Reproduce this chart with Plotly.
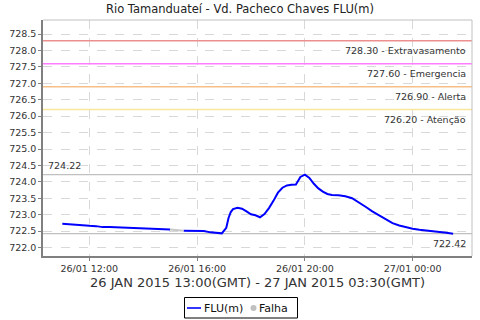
import plotly.graph_objects as go

# ---- data ----
times_a = ["2015-01-26 11:00", "2015-01-26 11:15", "2015-01-26 11:30", "2015-01-26 11:45",
           "2015-01-26 12:00", "2015-01-26 12:15", "2015-01-26 12:30", "2015-01-26 12:45",
           "2015-01-26 13:00", "2015-01-26 13:15", "2015-01-26 13:30", "2015-01-26 13:45",
           "2015-01-26 14:00", "2015-01-26 14:15", "2015-01-26 14:30", "2015-01-26 14:45",
           "2015-01-26 15:00"]
level_a = [722.72, 722.70, 722.68, 722.68, 722.66, 722.65, 722.62, 722.62,
           722.61, 722.60, 722.60, 722.59, 722.59, 722.58, 722.56, 722.56, 722.55]

falha_times = ["2015-01-26 15:00", "2015-01-26 15:30"]
falha_level = [722.55, 722.51]

times_b = ["2015-01-26 15:30", "2015-01-26 15:45", "2015-01-26 16:00", "2015-01-26 16:15",
           "2015-01-26 16:30", "2015-01-26 16:45", "2015-01-26 16:55", "2015-01-26 17:05",
           "2015-01-26 17:10", "2015-01-26 17:15", "2015-01-26 17:20", "2015-01-26 17:30",
           "2015-01-26 17:40", "2015-01-26 17:50", "2015-01-26 18:00", "2015-01-26 18:10",
           "2015-01-26 18:20", "2015-01-26 18:30", "2015-01-26 18:40", "2015-01-26 18:50",
           "2015-01-26 19:00", "2015-01-26 19:10", "2015-01-26 19:20", "2015-01-26 19:30",
           "2015-01-26 19:40", "2015-01-26 19:50", "2015-01-26 20:00", "2015-01-26 20:10",
           "2015-01-26 20:20", "2015-01-26 20:30", "2015-01-26 20:40", "2015-01-26 20:50",
           "2015-01-26 21:00", "2015-01-26 21:15", "2015-01-26 21:30", "2015-01-26 21:45",
           "2015-01-26 22:00", "2015-01-26 22:15", "2015-01-26 22:30", "2015-01-26 22:45",
           "2015-01-26 23:00", "2015-01-26 23:15", "2015-01-26 23:30", "2015-01-26 23:45",
           "2015-01-27 00:00", "2015-01-27 00:15", "2015-01-27 00:30", "2015-01-27 00:45",
           "2015-01-27 01:00", "2015-01-27 01:15", "2015-01-27 01:30"]
level_b = [722.51, 722.50, 722.50, 722.50, 722.46, 722.43, 722.43, 722.60,
           722.90, 723.08, 723.17, 723.21, 723.18, 723.10, 723.01, 722.98,
           722.92, 723.02, 723.20, 723.42, 723.67, 723.82, 723.89, 723.91,
           723.92, 724.15, 724.22, 724.12, 723.94, 723.80, 723.70, 723.63,
           723.60, 723.59, 723.56, 723.50, 723.38, 723.24, 723.10, 722.98,
           722.86, 722.74, 722.67, 722.61, 722.57, 722.54, 722.51, 722.49,
           722.47, 722.45, 722.42]

threshold_values = [728.30, 727.60, 726.90, 726.20]
threshold_names = ["Extravasamento", "Emergencia", "Alerta", "Atenção"]
threshold_colors = ["#ee8f8f", "#ff7cff", "#f5c088", "#f7e79a"]

max_value = 724.22
last_value = 722.42

tick_vals = ["2015-01-26 12:00", "2015-01-26 16:00", "2015-01-26 20:00", "2015-01-27 00:00"]
tick_text = ["26/01 12:00", "26/01 16:00", "26/01 20:00", "27/01 00:00"]

legend_names = ["FLU(m)", "Falha"]

title = "Rio Tamanduateí - Vd. Pacheco Chaves FLU(m)"
x_title = "26 JAN 2015 13:00(GMT) - 27 JAN 2015 03:30(GMT)"

FONT = "DejaVu Sans"
W, H = 480, 320
ML, MR, MT, MB = 43, 8, 20, 64
PW, PH = W - ML - MR, H - MT - MB


def px(x):
    return (x - ML) / PW


def py(y):
    return (H - MB - y) / PH


fig = go.Figure()
fig.add_trace(go.Scatter(x=times_a, y=level_a, mode="lines", line=dict(color="#0000ff", width=2),
                         name=legend_names[0], showlegend=False))
fig.add_trace(go.Scatter(x=times_b, y=level_b, mode="lines", line=dict(color="#0000ff", width=2),
                         name=legend_names[0], showlegend=False))
fig.add_trace(go.Scatter(x=falha_times, y=falha_level, mode="lines", line=dict(color="#c8c8c8", width=2),
                         name=legend_names[1], showlegend=False))

shapes = []
annotations = []
for v, n, c in zip(threshold_values, threshold_names, threshold_colors):
    shapes.append(dict(type="line", xref="paper", x0=0, x1=1, yref="y", y0=v, y1=v,
                       line=dict(color=c, width=1.5), layer="above"))
    annotations.append(dict(xref="paper", x=0.99, yref="y", y=v, yanchor="top", xanchor="right",
                            yshift=-2, text=f"{v:.2f} - {n}", showarrow=False,
                            font=dict(family=FONT, size=9.5, color="#333333")))

for v in [max_value, last_value]:
    shapes.append(dict(type="line", xref="paper", x0=0, x1=1, yref="y", y0=v, y1=v,
                       line=dict(color="#c0c0c0", width=1.2), layer="below"))
annotations.append(dict(xref="paper", x=0.007, yref="y", y=max_value, yanchor="bottom", xanchor="left",
                        yshift=2, text=f"{max_value:.2f}", showarrow=False,
                        font=dict(family=FONT, size=9.5, color="#333333")))
annotations.append(dict(xref="paper", x=0.99, yref="y", y=last_value, yanchor="top", xanchor="right",
                        yshift=-2, text=f"{last_value:.2f}", showarrow=False,
                        font=dict(family=FONT, size=9.5, color="#333333")))

# plot border (top & right light)
shapes.append(dict(type="line", xref="paper", yref="paper", x0=0, x1=1, y0=1, y1=1,
                   line=dict(color="#c0c0c0", width=1)))
shapes.append(dict(type="line", xref="paper", yref="paper", x0=1, x1=1, y0=0, y1=1,
                   line=dict(color="#c0c0c0", width=1)))

# x-axis caption
annotations.append(dict(xref="paper", yref="paper", x=0.5, y=py(282), xanchor="center", yanchor="middle",
                        text=x_title, showarrow=False, font=dict(family=FONT, size=13, color="#333333")))

# legend box (drawn manually to match the compact original)
shapes.append(dict(type="rect", xref="paper", yref="paper", x0=px(184.5), x1=px(297.5),
                   y0=py(318), y1=py(297.5), line=dict(color="black", width=1), fillcolor="white"))
shapes.append(dict(type="line", xref="paper", yref="paper", x0=px(187), x1=px(201), y0=py(308), y1=py(308),
                   line=dict(color="#0000ff", width=1.6)))
shapes.append(dict(type="circle", xref="paper", yref="paper", x0=px(250.5), x1=px(256.5),
                   y0=py(311), y1=py(305), line=dict(color="#c0c0c0", width=0), fillcolor="#c0c0c0"))
annotations.append(dict(xref="paper", yref="paper", x=px(202), y=py(308), xanchor="left", yanchor="middle",
                        text=legend_names[0], showarrow=False, font=dict(family=FONT, size=11, color="#111111")))
annotations.append(dict(xref="paper", yref="paper", x=px(257), y=py(308), xanchor="left", yanchor="middle",
                        text=legend_names[1], showarrow=False, font=dict(family=FONT, size=11, color="#111111")))

fig.update_layout(
    width=W, height=H,
    margin=dict(l=ML, r=MR, t=MT, b=MB),
    paper_bgcolor="white", plot_bgcolor="white",
    title=dict(text=title, x=0.5, xanchor="center", y=1 - 9 / H, yanchor="middle", yref="container",
               font=dict(family=FONT, size=11.5, color="#222222")),
    shapes=shapes, annotations=annotations,
    showlegend=False,
    xaxis=dict(range=["2015-01-26 10:17", "2015-01-27 02:12"], tickvals=tick_vals, ticktext=tick_text,
               showgrid=True, gridcolor="#d8d8d8", griddash="dash", gridwidth=1,
               showline=True, linecolor="#808080", linewidth=1.5, ticks="outside", ticklen=3,
               tickcolor="#808080", zeroline=False, automargin=False,
               tickfont=dict(family=FONT, size=9.5, color="#333333")),
    yaxis=dict(range=[721.74, 728.93], dtick=0.5, tick0=722.0, tickformat=".1f",
               showgrid=True, gridcolor="#d8d8d8", griddash="dash", gridwidth=1,
               showline=True, linecolor="#808080", linewidth=1.5, ticks="outside", ticklen=3,
               tickcolor="#808080", zeroline=False, automargin=False,
               tickfont=dict(family=FONT, size=9.5, color="#333333")),
)

fig.write_html("out.html")
